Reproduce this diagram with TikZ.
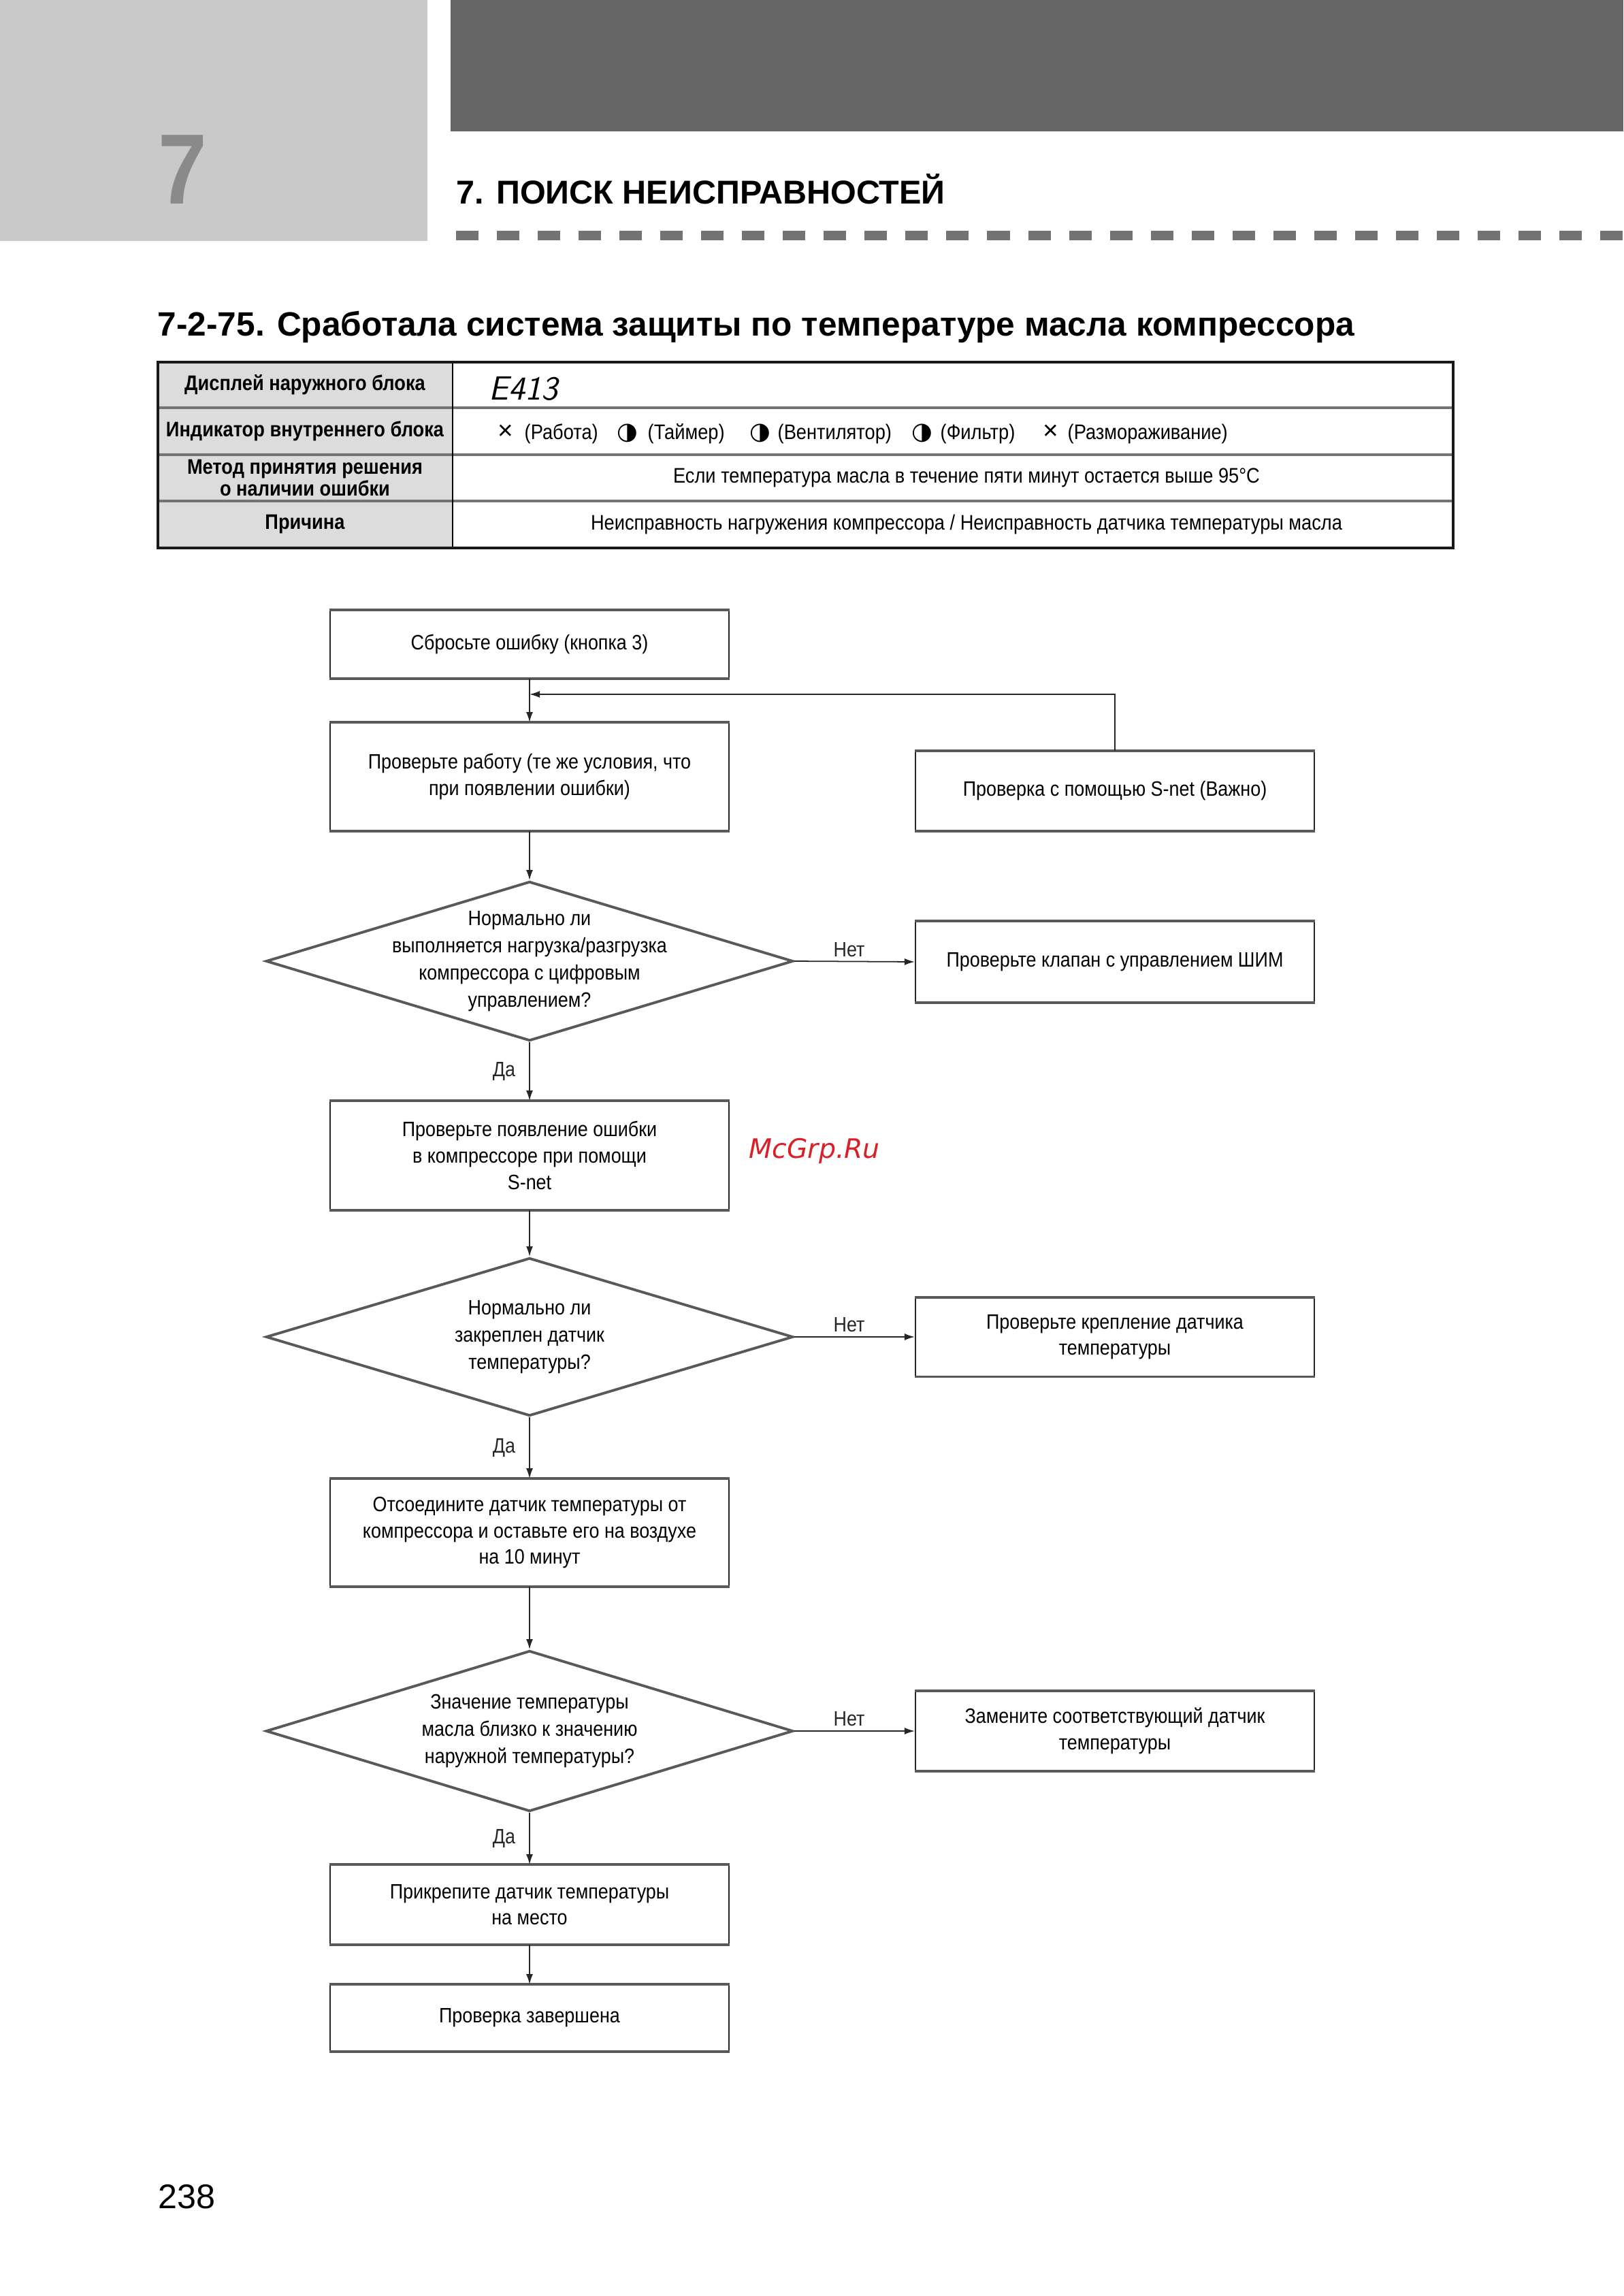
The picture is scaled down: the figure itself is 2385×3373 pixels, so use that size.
\documentclass[tikz,border=0pt]{standalone}
\usepackage{fontspec}
\setmainfont{Liberation Sans}[FakeStretch=0.88]
\newfontfamily\plainf{Liberation Sans}
\newfontfamily\wmf{DejaVu Sans}
\usetikzlibrary{shapes.geometric,arrows.meta,calc}
\definecolor{lgray}{HTML}{C9C9C9}
\definecolor{dgray}{HTML}{666666}
\definecolor{sevengray}{HTML}{8A8A8A}
\definecolor{cellgray}{HTML}{DCDCDC}
\definecolor{wmred}{HTML}{D92027}
\begin{document}
\begin{tikzpicture}[x=0.01cm,y=-0.01cm,
  box/.style={draw=black!85, line width=0.5pt, rectangle, minimum width=5.86cm, inner sep=0pt, align=center, font=\fontsize{8.7}{11}\selectfont},
  dia/.style={draw=black!65, line width=1.1pt, diamond, minimum width=7.74cm, minimum height=2.34cm, inner sep=0pt},
  dtext/.style={align=center, inner sep=0pt, font=\fontsize{8.7}{11.4}\selectfont},
  edge/.style={line width=1.1pt, black!65},
  arr/.style={-{Latex[length=0.15cm,width=0.1cm]}, line width=0.5pt, black!85},
  lbl/.style={font=\fontsize{8.7}{11}\selectfont, inner sep=0pt},
  nlbl/.style={lbl, above=0.06cm, xshift=-0.08cm},
  ylbl/.style={lbl, left=0.2cm},
  cell/.style={inner sep=0pt, align=center, font=\fontsize{8.8}{10.5}\selectfont},
  hcell/.style={inner sep=0pt, align=center, font=\fontsize{8.8}{8}\selectfont\bfseries},
  sym/.style={inner sep=0pt, anchor=base, font=\wmf\fontsize{10}{10}\selectfont}
]
\useasboundingbox (0,0) rectangle (2385,3373);
% header
\fill[lgray] (0,0) rectangle (628,354);
\fill[dgray] (662,0) rectangle (2385,193);
\node[anchor=base, inner sep=0pt, text=sevengray, font=\fontsize{41.7}{42}\selectfont\bfseries] (seven) at (268,300) {7};
\node[anchor=base west, inner sep=0pt, font=\plainf\fontsize{13.8}{14}\selectfont\bfseries] (chap) at (670,300) {7. ПОИСК НЕИСПРАВНОСТЕЙ};
\draw[black!55, line width=3.7pt, dash pattern=on 0.33cm off 0.27cm] (670,346) -- (2385,346);
% title
\node[anchor=base west, inner sep=0pt, font=\plainf\fontsize{14.1}{15}\selectfont\bfseries] (title) at (231,493) {7-2-75. Сработала система защиты по температуре масла компрессора};
% table
\fill[cellgray] (232,532) rectangle (665,805);
\foreach \yy in {599,668,736} \draw[line width=1.1pt, black!55] (232,\yy) -- (2135,\yy);
\draw[line width=0.6pt] (665,532) -- (665,805);
\draw[line width=1.4pt, black!90] (232,532) rectangle (2135,805);
\node[hcell] (h1) at (448,565) {Дисплей наружного блока};
\node[hcell] (h2) at (448,633) {Индикатор внутреннего блока};
\node[hcell] (h3) at (448,702) {Метод принятия решения\\о наличии ошибки};
\node[hcell] (h4) at (448,770) {Причина};
\node[anchor=base west, inner sep=0pt, font=\sffamily\itshape\fontsize{14}{14}\selectfont\addfontfeature{LetterSpace=22}] (disp) at (718,587) {E413};
\node[sym, font=\plainf\fontsize{11}{11}\selectfont] (s1) at (743,645) {×};
\node[cell, anchor=base west] (t1) at (770,645) {(Работа)};
\node[sym] (s2) at (922,645) {◑};
\node[cell, anchor=base west] (t2) at (951,645) {(Таймер)};
\node[sym] (s3) at (1117,645) {◑};
\node[cell, anchor=base west] (t3) at (1142,645) {(Вентилятор)};
\node[sym] (s4) at (1355,645) {◑};
\node[cell, anchor=base west] (t4) at (1381,645) {(Фильтр)};
\node[sym, font=\plainf\fontsize{11}{11}\selectfont] (s5) at (1544,645) {×};
\node[cell, anchor=base west] (t5) at (1568,645) {(Размораживание)};
\node[cell] (r3) at (1420,702) {Если температура масла в течение пяти минут остается выше 95°C};
\node[cell] (r4) at (1420,770) {Неисправность нагружения компрессора / Неисправность датчика температуры масла};
% flowchart
\node[box, minimum height=0.99cm] (b1) at (778,946.5) {Сбросьте ошибку (кнопка 3)};
\node[box, minimum height=1.58cm] (b2) at (778,1141) {Проверьте работу (те же условия, что\\при появлении ошибки)};
\node[box, minimum height=1.16cm] (snet) at (1638,1162) {Проверка с помощью S-net (Важно)};
\node[dia] (d1) at (778,1412) {};
\node[dtext] (d1t) at (778,1412) {Нормально ли\\выполняется нагрузка/разгрузка\\компрессора с цифровым\\управлением?};
\node[box, minimum height=1.18cm] (pwm) at (1638,1413) {Проверьте клапан с управлением ШИМ};
\node[box, minimum height=1.59cm] (b3) at (778,1697.5) {Проверьте появление ошибки\\в компрессоре при помощи\\S-net};
\node[dia, minimum height=2.32cm] (d2) at (778,1964) {};
\node[dtext] (d2t) at (778,1964) {Нормально ли\\закреплен датчик\\температуры?};
\node[box, minimum height=1.15cm] (mount) at (1638,1964) {Проверьте крепление датчика\\температуры};
\node[box, minimum height=1.57cm] (b4) at (778,2251.5) {Отсоедините датчик температуры от\\компрессора и оставьте его на воздухе\\на 10 минут};
\node[dia, minimum height=2.36cm] (d3) at (778,2543) {};
\node[dtext] (d3t) at (778,2543) {Значение температуры\\масла близко к значению\\наружной температуры?};
\node[box, minimum height=1.16cm] (repl) at (1638,2543) {Замените соответствующий датчик\\температуры};
\node[box, minimum height=1.16cm] (b5) at (778,2798) {Прикрепите датчик температуры\\на место};
\node[box, minimum height=0.97cm] (b6) at (778,2964.5) {Проверка завершена};
\foreach \n in {b1,b2,snet,pwm,b3,mount,b4,repl,b5,b6}
  \draw[edge] (\n.north west) -- (\n.north east) (\n.south west) -- (\n.south east);
\coordinate (lp) at (778,1020);
\draw[arr] (b1) -- (b2);
\draw[arr] (snet.north) |- (lp);
\draw[arr] (b2) -- (d1.north);
\draw[arr] (d1.east) -- node[nlbl] (n1) {Нет} (pwm.west);
\draw[arr] (d1.south) -- node[ylbl] (y1) {Да} (b3.north);
\draw[arr] (b3) -- (d2.north);
\draw[arr] (d2.east) -- node[nlbl] (n2) {Нет} (mount.west);
\draw[arr] (d2.south) -- node[ylbl] (y2) {Да} (b4.north);
\draw[arr] (b4) -- (d3.north);
\draw[arr] (d3.east) -- node[nlbl] (n3) {Нет} (repl.west);
\draw[arr] (d3.south) -- node[ylbl] (y3) {Да} (b5.north);
\draw[arr] (b5) -- (b6);
% watermark and page number
\node[anchor=base west, inner sep=0pt, text=wmred, font=\wmf\itshape\fontsize{11.2}{12}\selectfont] (wm) at (1100,1701) {McGrp.Ru};
\node[anchor=base west, inner sep=0pt, font=\plainf\fontsize{14.3}{15}\selectfont] (page) at (232,3244) {238};
\end{tikzpicture}
\end{document}
